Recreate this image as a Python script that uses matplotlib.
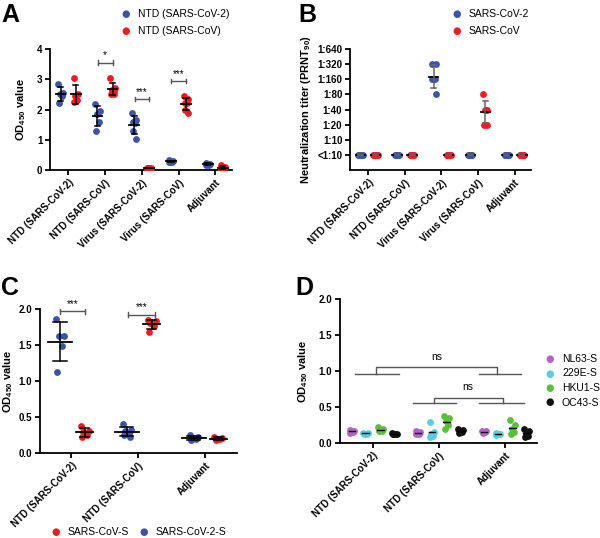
import numpy as np
import matplotlib
matplotlib.use("Agg")
import matplotlib.pyplot as plt

plt.rcParams['font.family'] = ['Liberation Sans', 'DejaVu Sans']
plt.rcParams['font.weight'] = 'bold'
plt.rcParams['mathtext.fontset'] = 'custom'
plt.rcParams['mathtext.rm'] = 'Liberation Sans:bold'
plt.rcParams['mathtext.bf'] = 'Liberation Sans:bold'

BLUE = '#3a55a6'
RED = '#ee1d25'
PURPLE = '#b064c0'
CYAN = '#5ccbe3'
GREEN = '#5cbf3c'
BLACK = '#111111'

# ---------------- data ----------------
cats_A = ['NTD (SARS-CoV-2)', 'NTD (SARS-CoV)', 'Virus (SARS-CoV-2)', 'Virus (SARS-CoV)', 'Adjuvant']
A_cov2 = [[2.85, 2.55, 2.5, 2.45, 2.2],
          [2.18, 1.95, 1.85, 1.6, 1.3],
          [1.88, 1.65, 1.6, 1.55, 1.3, 1.02],
          [0.32, 0.3, 0.28, 0.27, 0.25],
          [0.23, 0.21, 0.2, 0.18, 0.17]]
A_cov = [[3.03, 2.5, 2.45, 2.3, 2.25],
         [3.03, 2.7, 2.65, 2.6, 2.5, 2.5],
         [0.07, 0.06, 0.08, 0.05, 0.06],
         [2.43, 2.35, 2.22, 2.2, 2.0, 1.88],
         [0.15, 0.1, 0.07, 0.05, 0.04]]
A_sig = [(1, '*', 3.55), (2, '***', 2.35), (3, '***', 2.95)]

titer_labels = ['<1:10', '1:10', '1:20', '1:40', '1:80', '1:160', '1:320', '1:640']
B_cov2 = [[0, 0, 0, 0, 0], [0, 0, 0, 0, 0], [6, 6, 5, 5, 5, 4], [0, 0, 0, 0, 0], [0, 0, 0, 0, 0]]
B_cov = [[0, 0, 0, 0, 0], [0, 0, 0, 0, 0], [0, 0, 0, 0, 0], [4, 3, 3, 3, 2, 2], [0, 0, 0, 0, 0]]

cats_C = ['NTD (SARS-CoV-2)', 'NTD (SARS-CoV)', 'Adjuvant']
C_cov2S = [[1.86, 1.63, 1.62, 1.49, 1.12],
           [0.4, 0.32, 0.3, 0.28, 0.25, 0.22],
           [0.25, 0.22, 0.2, 0.2, 0.18]]
C_covS = [[0.38, 0.3, 0.29, 0.25, 0.22],
          [1.85, 1.83, 1.8, 1.77, 1.68],
          [0.22, 0.21, 0.2, 0.19, 0.18]]

D_names = ['NL63-S', '229E-S', 'HKU1-S', 'OC43-S']
D_vals = {
    'NL63-S': [[0.18, 0.17, 0.16, 0.15, 0.14], [0.16, 0.15, 0.14, 0.13, 0.12], [0.16, 0.16, 0.15, 0.15, 0.14]],
    '229E-S': [[0.14, 0.14, 0.13, 0.13, 0.12], [0.29, 0.15, 0.13, 0.1, 0.08], [0.14, 0.13, 0.12, 0.12, 0.11]],
    'HKU1-S': [[0.22, 0.2, 0.18, 0.17, 0.16], [0.37, 0.35, 0.3, 0.25, 0.2], [0.32, 0.25, 0.2, 0.15, 0.13]],
    'OC43-S': [[0.14, 0.13, 0.13, 0.12, 0.12], [0.2, 0.18, 0.16, 0.15, 0.14], [0.2, 0.17, 0.13, 0.1, 0.08]],
}
D_colors = [PURPLE, CYAN, GREEN, BLACK]

jit = [-0.06, 0.06, -0.02, 0.03, -0.04, 0.05]

fig = plt.figure(figsize=(6.0, 5.38), dpi=100)
W, H = 600, 538

def ax_px(l, t, r, b):
    return fig.add_axes([l / W, (H - b) / H, (r - l) / W, (b - t) / H])

def style(ax):
    for s in ['top', 'right']:
        ax.spines[s].set_visible(False)
    for s in ['left', 'bottom']:
        ax.spines[s].set_linewidth(1.3)
    ax.tick_params(width=1.3, length=3.5, labelsize=7, pad=2)
    for lab in ax.get_yticklabels():
        lab.set_fontweight('bold')

def xlabels(ax, cats):
    ax.set_xticks(range(len(cats)))
    ax.set_xticklabels(cats, rotation=45, ha='right', rotation_mode='anchor',
                       fontsize=7, fontweight='bold')

def dots(ax, x0, vals, color, s=24, ebc='black', mw=0.13, cw=0.07):
    xs = [x0 + jit[i % len(jit)] for i in range(len(vals))]
    ax.scatter(xs, vals, s=s, color=color, zorder=3, linewidths=0)
    v = np.array(vals, float)
    m, sd = v.mean(), v.std(ddof=1)
    ax.plot([x0 - mw, x0 + mw], [m, m], color='black', lw=1.3, zorder=4)
    ax.plot([x0, x0], [m - sd, m + sd], color=ebc, lw=1.1, zorder=4)
    for y in (m - sd, m + sd):
        ax.plot([x0 - cw, x0 + cw], [y, y], color=ebc, lw=1.1, zorder=4)

def bracket(ax, x1, x2, y, txt, h, color='#555555', fs=7):
    ax.plot([x1, x2], [y, y], color=color, lw=1.0)
    for x in (x1, x2):
        ax.plot([x, x], [y - h, y + h], color=color, lw=1.0)
    ax.text((x1 + x2) / 2, y + h, txt, ha='center', va='bottom', fontsize=fs, fontweight='normal')

OD_LABEL = 'OD$_{450}$ value'

# ---------------- Panel A ----------------
axA = ax_px(50, 49, 232, 170)
for i in range(len(cats_A)):
    dots(axA, i - 0.21, A_cov2[i], BLUE)
    dots(axA, i + 0.2, A_cov[i], RED)
for i, t, y in A_sig:
    bracket(axA, i - 0.2, i + 0.2, y, t, 0.07)
axA.set_xlim(-0.5, 4.45)
axA.set_ylim(0, 4)
axA.set_yticks([0, 1, 2, 3, 4])
axA.set_ylabel(OD_LABEL, fontsize=8, fontweight='bold')
axA.yaxis.set_label_coords(-0.12, 0.5)
xlabels(axA, cats_A)
style(axA)

# ---------------- Panel B ----------------
axB = ax_px(350, 49, 531, 170)
for i in range(len(cats_A)):
    dots(axB, i - 0.21, B_cov2[i], BLUE, ebc='#666666')
    dots(axB, i + 0.2, B_cov[i], RED, ebc='#666666')
axB.set_xlim(-0.5, 4.45)
axB.set_ylim(-1, 7)
axB.set_yticks(range(len(titer_labels)))
axB.set_yticklabels(titer_labels)
axB.set_ylabel('Neutralization titer (PRNT$_{90}$)', fontsize=8, fontweight='bold')
axB.yaxis.set_label_coords(-0.205, 0.5)
xlabels(axB, cats_A)
style(axB)

# ---------------- Panel C ----------------
axC = ax_px(40, 309, 237, 453)
for i in range(len(cats_C)):
    dots(axC, i - 0.17, C_cov2S[i], BLUE, mw=0.18, cw=0.1)
    dots(axC, i + 0.2, C_covS[i], RED, mw=0.13, cw=0.07)
bracket(axC, -0.17, 0.2, 1.97, '***', 0.035)
bracket(axC, 0.85, 1.25, 1.92, '***', 0.035)
axC.set_xlim(-0.47, 2.48)
axC.set_ylim(0, 2.0)
axC.set_yticks([0, 0.5, 1.0, 1.5, 2.0])
axC.set_yticklabels(['0.0', '0.5', '1.0', '1.5', '2.0'])
axC.set_ylabel(OD_LABEL, fontsize=8, fontweight='bold')
axC.yaxis.set_label_coords(-0.125, 0.5)
xlabels(axC, cats_C)
style(axC)

# ---------------- Panel D ----------------
axD = ax_px(340, 299, 537, 443)
offs = [-0.32, -0.11, 0.11, 0.32]
for k, name in enumerate(D_names):
    for i in range(3):
        vals = D_vals[name][i]
        x0 = i + offs[k]
        xs = [x0 + 0.6 * jit[j % len(jit)] for j in range(len(vals))]
        axD.scatter(xs, vals, s=24, color=D_colors[k], zorder=3, linewidths=0)
        m = np.mean(vals)
        axD.plot([x0 - 0.05, x0 + 0.05], [m, m], color='black', lw=1.0, zorder=4)
gc = '#555555'
axD.plot([-0.27, 0.4], [0.96, 0.96], color=gc, lw=1.0)
axD.plot([1.6, 2.24], [0.96, 0.96], color=gc, lw=1.0)
axD.plot([0.05, 0.05, 1.88, 1.88], [0.96, 1.055, 1.055, 0.96], color=gc, lw=1.0)
axD.text(0.97, 1.13, 'ns', ha='center', va='bottom', fontsize=7.5, fontweight='normal')
axD.plot([0.6, 1.26], [0.555, 0.555], color=gc, lw=1.0)
axD.plot([1.6, 2.29], [0.555, 0.555], color=gc, lw=1.0)
axD.plot([0.92, 0.92, 1.96, 1.96], [0.555, 0.63, 0.63, 0.555], color=gc, lw=1.0)
axD.text(1.44, 0.71, 'ns', ha='center', va='bottom', fontsize=7.5, fontweight='normal')
axD.set_xlim(-0.5, 2.48)
axD.set_ylim(0, 2.0)
axD.set_yticks([0, 0.5, 1.0, 1.5, 2.0])
axD.set_yticklabels(['0.0', '0.5', '1.0', '1.5', '2.0'])
axD.set_ylabel(OD_LABEL, fontsize=8, fontweight='bold')
axD.yaxis.set_label_coords(-0.15, 0.5)
xlabels(axD, cats_C)
style(axD)

# ---------------- legends ----------------
def leg_item(xm, y, color, text, fs=7.5):
    fig.text(xm / W, 1 - y / H, '\u25CF', color=color, fontsize=7, ha='center', va='center',
             family='DejaVu Sans')
    fig.text((xm + 12) / W, 1 - y / H, text, fontsize=fs, ha='left', va='center', fontweight='normal')

leg_item(126, 14, BLUE, 'NTD (SARS-CoV-2)')
leg_item(126, 31, RED, 'NTD (SARS-CoV)')
leg_item(457, 14, BLUE, 'SARS-CoV-2')
leg_item(457, 31, RED, 'SARS-CoV')
leg_item(56, 532, RED, 'SARS-CoV-S')
leg_item(144, 532, BLUE, 'SARS-CoV-2-S')
for k, name in enumerate(D_names):
    leg_item(550, 359 + k * 14.5, D_colors[k], name, fs=7.5)

for lt, x, y in [('A', 1, 15), ('B', 298, 15), ('C', 1, 288), ('D', 295, 288)]:
    fig.text(x / W, 1 - y / H, lt, fontsize=18, fontweight='bold', ha='left', va='center')

fig.savefig('out.png', dpi=100)
